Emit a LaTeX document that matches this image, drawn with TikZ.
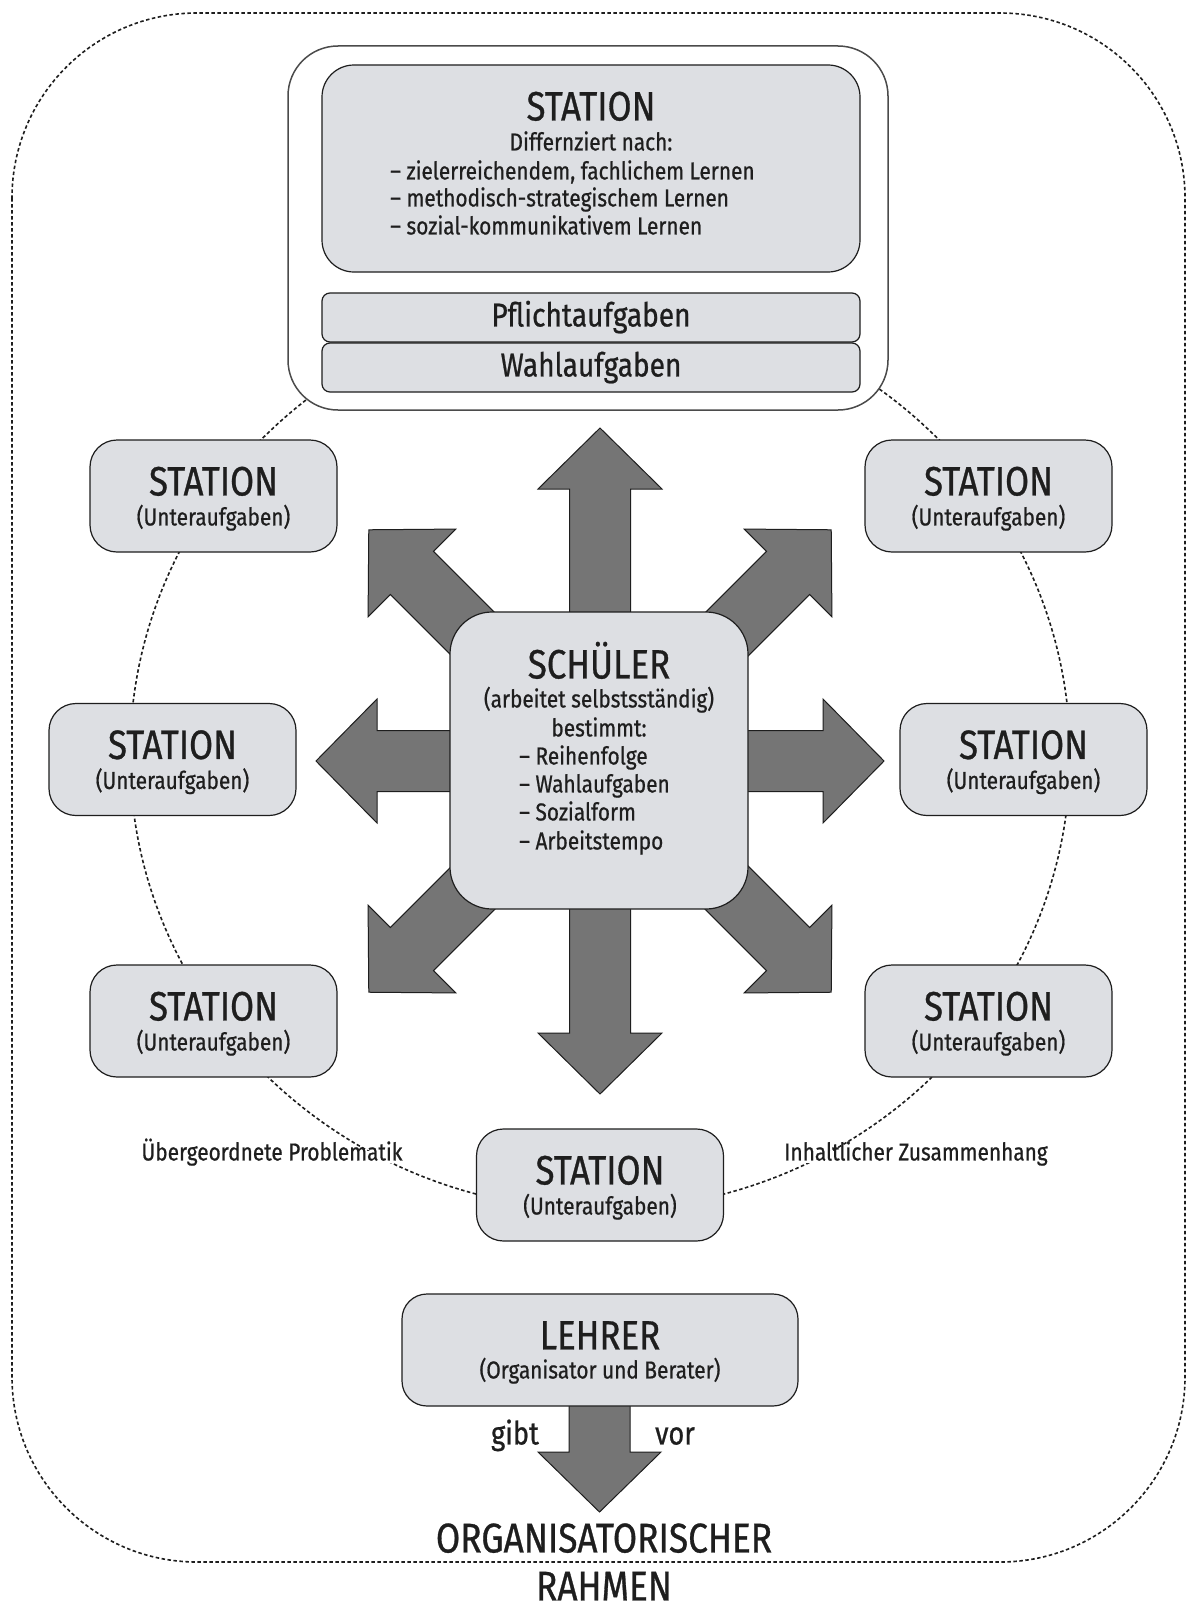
\documentclass[tikz,border=0pt]{standalone}
\usepackage{fontspec}
\setmainfont[FakeStretch=0.85, FakeBold=0.7]{Fira Sans}
\definecolor{boxfill}{HTML}{DDDFE3}
\definecolor{arrfill}{HTML}{757575}
\definecolor{ink}{HTML}{1E1E1E}
\tikzset{
 txt/.style={inner sep=0pt, text height=0.69em, text depth=0pt, text=ink},
 headf/.style={font=\fontsize{41}{45}\selectfont, yshift=-8pt},
 subf/.style={font=\fontsize{24.5}{28}\selectfont, yshift=-5pt},
 bodyf/.style={font=\fontsize{24.5}{28}\selectfont, yshift=-5pt},
 barf/.style={font=\fontsize{33}{37}\selectfont, yshift=-5pt},
 bigf/.style={font=\fontsize{41.5}{46}\selectfont, yshift=-10pt},
 gibtf/.style={font=\fontsize{32}{36}\selectfont, yshift=-7pt},
 box/.style={draw=ink, fill=boxfill, line width=1.2pt, rounded corners=27pt, inner sep=0pt},
 dashln/.style={draw=ink, line width=1.6pt, dash pattern=on 3.5pt off 2.5pt},
 arrowst/.style={draw=ink, fill=arrfill, line width=1pt, line join=miter},
 lbl/.style={txt, bodyf, fill=white, inner sep=3pt},
}
\begin{document}
\begin{tikzpicture}[x=1pt,y=-1pt]
\useasboundingbox (0,0) rectangle (1192,1611);
\fill[white] (0,0) rectangle (1192,1611);
% outer dashed frame
\draw[dashln, rounded corners=185pt] (12,13) rectangle (1185,1562);
% dashed ellipse linking the stations
\draw[dashln] (600,755) ellipse [x radius=470, y radius=455];
% star arrows
\foreach \a/\L in {90/333, 270/333, 0/284, 180/284, 45/327, 135/327, 225/327, 315/327}{
  \draw[arrowst, shift={(600,761)}, rotate=\a]
    (0,-30.5) -- (\L-61,-30.5) -- (\L-61,-62) -- (\L,0) -- (\L-61,62) -- (\L-61,30.5) -- (0,30.5) -- cycle;
}
% top station block
\node[draw=ink!80, fill=white, line width=1.5pt, rounded corners=50pt, minimum width=600pt, minimum height=364pt] (topframe) at (588,228) {};
\node[box, rounded corners=32pt, minimum width=538pt, minimum height=207pt] (topst) at (591,168.5) {};
\node[box, rounded corners=8pt, minimum width=538pt, minimum height=49pt] (pflicht) at (591,317.5) {};
\node[box, rounded corners=8pt, minimum width=538pt, minimum height=49pt] (wahl) at (591,367.5) {};
\node[txt, headf] (toph) at (591,109) {STATION};
\node[txt, bodyf] (topd) at (591,142) {Differnziert nach:};
\node[txt, bodyf, anchor=west] (topl1) at (390,171) {– zielerreichendem, fachlichem Lernen};
\node[txt, bodyf, anchor=west] (topl2) at (390,198) {– methodisch-strategischem Lernen};
\node[txt, bodyf, anchor=west] (topl3) at (390,226) {– sozial-kommunikativem Lernen};
\node[txt, barf] (pflichtt) at (591,318) {Pflichtaufgaben};
\node[txt, barf] (wahlt) at (591,368) {Wahlaufgaben};
% stations
\foreach \n/\x/\y in {ul/213.5/496, ml/172.5/759.5, ll/213.5/1021, ur/988.5/496, mr/1023.5/759.5, lr/988.5/1021, bo/600/1185}{
  \node[box, minimum width=247pt, minimum height=112pt] (st\n) at (\x,\y) {};
  \node[txt, headf] (st\n-h) at (\x,\y-12) {STATION};
  \node[txt, subf] (st\n-s) at (\x,\y+21) {(Unteraufgaben)};
}
% pupil
\node[box, rounded corners=42pt, minimum width=298pt, minimum height=297pt] (schueler) at (599,760.5) {};
\node[txt, headf] (schh) at (599,667) {SCHÜLER};
\node[txt, bodyf] (schs) at (599,699) {(arbeitet selbstsständig)};
\node[txt, bodyf] (schb) at (599,728) {bestimmt:};
\node[txt, bodyf, anchor=west] (sch1) at (519,756) {– Reihenfolge};
\node[txt, bodyf, anchor=west] (sch2) at (519,784) {– Wahlaufgaben};
\node[txt, bodyf, anchor=west] (sch3) at (519,812) {– Sozialform};
\node[txt, bodyf, anchor=west] (sch4) at (519,841) {– Arbeitstempo};
% labels on the ellipse
\node[lbl] (lblL) at (272,1152) {Übergeordnete Problematik};
\node[lbl] (lblR) at (916,1152) {Inhaltlicher Zusammenhang};
% teacher
\coordinate (ltip) at (599.5,1512);
\draw[arrowst] (569,1400) -- (569,1452) -- (538,1452) -- (ltip) -- (661,1452) -- (630,1452) -- (630,1400) -- cycle;
\node[box, rounded corners=25pt, minimum width=396pt, minimum height=112pt] (lehrer) at (600,1350) {};
\node[txt, headf] (lehrerh) at (600,1338) {LEHRER};
\node[txt, subf] (lehrers) at (600,1370) {(Organisator und Berater)};
\node[txt, gibtf] (gibt) at (515,1434) {gibt};
\node[txt, gibtf] (vor) at (675,1434) {vor};
\node[txt, bigf] (org) at (604,1539) {ORGANISATORISCHER};
\node[txt, bigf] (rahmen) at (604,1587) {RAHMEN};
\end{tikzpicture}
\end{document}
